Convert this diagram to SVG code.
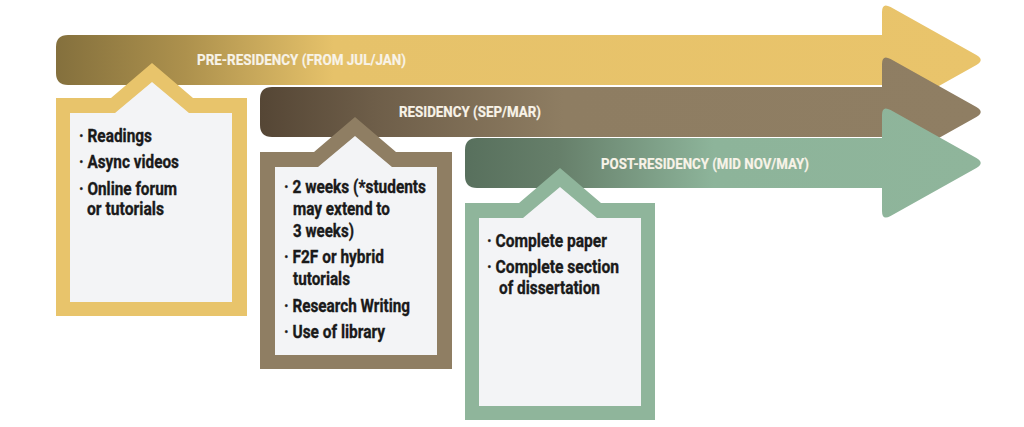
<svg xmlns="http://www.w3.org/2000/svg" width="1024" height="427" viewBox="0 0 1024 427">
  <style>
    .title { font-family: Roboto, "Liberation Sans", sans-serif; font-weight: 700; font-size: 15.5px; fill: #f8f3e8; stroke: #f8f3e8; stroke-width: 0.2px; }
    .item { font-family: Roboto, "Liberation Sans", sans-serif; font-weight: 700; font-size: 18px; fill: #1a1a1a; stroke: #1a1a1a; stroke-width: 0.35px; }
    .inner { fill: #f3f4f6; }
  </style>
  <defs>
    <linearGradient id="gGold" gradientUnits="userSpaceOnUse" x1="56" y1="0" x2="982" y2="0">
      <stop offset="0" stop-color="#84703d"/>
      <stop offset="0.14" stop-color="#ad914d"/>
      <stop offset="0.30" stop-color="#e6c26a"/>
      <stop offset="1" stop-color="#e9c46b"/>
    </linearGradient>
    <linearGradient id="gBrown" gradientUnits="userSpaceOnUse" x1="260" y1="0" x2="982" y2="0">
      <stop offset="0" stop-color="#554635"/>
      <stop offset="0.16" stop-color="#6e5e49"/>
      <stop offset="0.42" stop-color="#8e7d62"/>
      <stop offset="1" stop-color="#8f7e63"/>
    </linearGradient>
    <linearGradient id="gGreen" gradientUnits="userSpaceOnUse" x1="465" y1="0" x2="982" y2="0">
      <stop offset="0" stop-color="#58705d"/>
      <stop offset="0.18" stop-color="#667f6a"/>
      <stop offset="0.48" stop-color="#8db49a"/>
      <stop offset="1" stop-color="#8fb59b"/>
    </linearGradient>
  </defs>
  <rect width="1024" height="427" fill="#ffffff"/>

  <g id="connectors"></g>

  <g id="phase-pre">
    <path fill="url(#gGold)" d="M 68,35 L 882,35 L 882,12 Q 882,2 890.6,7.1 L 976.4,54.9 Q 985,60 976.4,65.1 L 890.6,112.9 Q 882,118 882,108 L 882,85 L 68,85 Q 56,85 56,73 L 56,47 Q 56,35 68,35 Z"/>
    <text class="title" x="197" y="65" textLength="209" lengthAdjust="spacingAndGlyphs">PRE-RESIDENCY (FROM JUL/JAN)</text>
  </g>

  <g id="phase-residency">
    <path fill="url(#gBrown)" d="M 272,87 L 882,87 L 882,64 Q 882,54 890.6,59.1 L 976.4,106.9 Q 985,112 976.4,117.1 L 890.6,164.9 Q 882,170 882,160 L 882,137 L 272,137 Q 260,137 260,125 L 260,99 Q 260,87 272,87 Z"/>
    <text class="title" x="399" y="117" textLength="142" lengthAdjust="spacingAndGlyphs">RESIDENCY (SEP/MAR)</text>
  </g>

  <g id="phase-post">
    <path fill="url(#gGreen)" d="M 477,138 L 882,138 L 882,115 Q 882,105 890.6,110.1 L 976.4,157.9 Q 985,163 976.4,168.1 L 890.6,215.9 Q 882,221 882,211 L 882,188 L 477,188 Q 465,188 465,176 L 465,150 Q 465,138 477,138 Z"/>
    <text class="title" x="601" y="169" textLength="208" lengthAdjust="spacingAndGlyphs">POST-RESIDENCY (MID NOV/MAY)</text>
  </g>

  <g id="box-pre">
    <polygon fill="#e8c46b" points="56,98 111,98 152,63 193,98 247,98 247,316 56,316"/>
    <polygon class="inner" points="70,113 115,113 152,82 189,113 232,113 232,302 70,302"/>
    <text class="item" x="79" y="142" textLength="73" lengthAdjust="spacingAndGlyphs">· Readings</text>
    <text class="item" x="79" y="168" textLength="100" lengthAdjust="spacingAndGlyphs">· Async videos</text>
    <text class="item" x="79" y="195" textLength="98" lengthAdjust="spacingAndGlyphs">· Online forum</text>
    <text class="item" x="87" y="215" textLength="77" lengthAdjust="spacingAndGlyphs">or tutorials</text>
  </g>

  <g id="box-residency">
    <polygon fill="#8f7e63" points="260,152 314,152 355,117 396,152 452,152 452,369 260,369"/>
    <polygon class="inner" points="275,167 318,167 355,136 392,167 437,167 437,355 275,355"/>
    <text class="item" x="284" y="193" textLength="142" lengthAdjust="spacingAndGlyphs">· 2 weeks (*students</text>
    <text class="item" x="293" y="215" textLength="97" lengthAdjust="spacingAndGlyphs">may extend to</text>
    <text class="item" x="293" y="237" textLength="61" lengthAdjust="spacingAndGlyphs">3 weeks)</text>
    <text class="item" x="284" y="263" textLength="100" lengthAdjust="spacingAndGlyphs">· F2F or hybrid</text>
    <text class="item" x="293" y="285" textLength="57" lengthAdjust="spacingAndGlyphs">tutorials</text>
    <text class="item" x="284" y="312" textLength="126" lengthAdjust="spacingAndGlyphs">· Research Writing</text>
    <text class="item" x="284" y="338" textLength="101" lengthAdjust="spacingAndGlyphs">· Use of library</text>
  </g>

  <g id="box-post">
    <polygon fill="#8fb59b" points="465,203 519,203 560,168 601,203 655,203 655,420 465,420"/>
    <polygon class="inner" points="479,218 523,218 560,187 597,218 641,218 641,406 479,406"/>
    <text class="item" x="487" y="247" textLength="120" lengthAdjust="spacingAndGlyphs">· Complete paper</text>
    <text class="item" x="487" y="273" textLength="132" lengthAdjust="spacingAndGlyphs">· Complete section</text>
    <text class="item" x="499" y="294" textLength="101" lengthAdjust="spacingAndGlyphs">of dissertation</text>
  </g>
</svg>
